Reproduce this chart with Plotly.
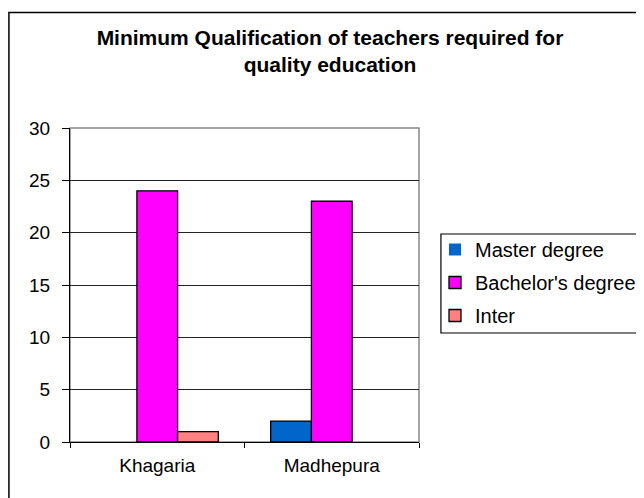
import plotly.graph_objects as go

categories = ["Khagaria", "Madhepura"]
master = [0, 2]
bachelor = [24, 23]
inter = [1, 0]
series_names = ["Master degree", "Bachelor's degree", "Inter"]
colors = ["#0066CC", "#FF00FF", "#FF8080"]

fig = go.Figure()
for i, (name, vals, col) in enumerate(zip(series_names, [master, bachelor, inter], colors)):
    fig.add_trace(go.Bar(x=categories, y=vals, name=name, legendgroup=f"g{i}",
                         marker=dict(color=col,
                                     line=dict(color="black",
                                               width=[1.3 if v > 0 else 0 for v in vals]))))

# page has 8px body margin
OFF = 8
FW, FH = 644, 498
L, T = 62, 120
PW, PH = 350, 314
R, B = FW - L - PW, FH - T - PH


def px(xw):
    return (xw - OFF - L) / PW


def py(yw):
    return (T + PH - (yw - OFF)) / PH


fig.update_layout(
    width=FW, height=FH,
    margin=dict(l=L, r=R, t=T, b=B),
    paper_bgcolor="white", plot_bgcolor="white",
    font=dict(family="Liberation Sans, Arial, sans-serif", size=19, color="black"),
    barmode="group", bargap=0.3, bargroupgap=0,
    title=dict(text="<b>Minimum Qualification of teachers required for<br>quality education</b>",
               x=(330 - OFF) / FW, xanchor="center", xref="container",
               y=1 - 37 / FH, yanchor="middle",
               font=dict(size=21, color="black")),
    showlegend=True,
    legend=dict(x=px(435), y=py(230), xanchor="left", yanchor="top",
                borderwidth=0, bgcolor="rgba(0,0,0,0)",
                font=dict(size=20), traceorder="grouped", tracegroupgap=4, itemwidth=30),
    xaxis=dict(showline=True, linecolor="black", linewidth=1,
               ticks="outside", tickson="boundaries", ticklen=5, tickcolor="black",
               showgrid=False, ticklabelstandoff=6),
    yaxis=dict(range=[0, 30], dtick=5, showline=True, linecolor="black", linewidth=1,
               ticks="outside", ticklen=7, tickcolor="black",
               showgrid=True, gridcolor="#222222", gridwidth=1,
               zeroline=False, ticklabelstandoff=8),
)
# plot-area frame
fig.add_shape(type="rect", xref="paper", yref="paper", x0=0, y0=0, x1=1, y1=1,
              line=dict(color="#888888", width=1.5), layer="below")
# legend box
fig.add_shape(type="rect", xref="paper", yref="paper",
              x0=px(442), y0=py(333), x1=px(641), y1=py(234),
              line=dict(color="black", width=1.2), fillcolor="white", layer="below")
# outer chart border
fig.add_shape(type="rect", xref="paper", yref="paper",
              x0=px(8.75), y0=py(530), x1=px(680), y1=py(12.5),
              line=dict(color="black", width=1.5), layer="above")
fig.write_html("out.html")
